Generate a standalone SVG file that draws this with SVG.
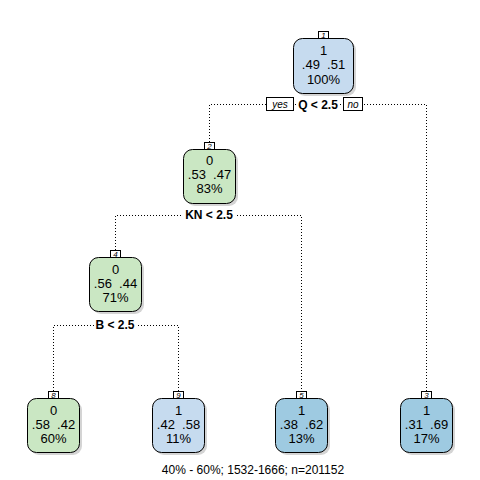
<svg xmlns="http://www.w3.org/2000/svg" width="480" height="480" viewBox="0 0 480 480">
<style>
text{font-family:"Liberation Sans",Arial,sans-serif;fill:#000;white-space:pre}
.t{font-size:13px;text-anchor:middle}
.s{font-size:12px;font-weight:bold;text-anchor:middle}
.yn{font-size:10px;font-style:italic;text-anchor:middle}
.n{font-size:8px;font-style:italic;text-anchor:middle}
.box{stroke:#000;stroke-width:1}
.sh{fill:#d4d4d4}
.lb{fill:#fff;stroke:#000;stroke-width:1}
.c{fill:none;stroke:#000;stroke-width:1;stroke-dasharray:1 2}
.g{fill:#cae7c3}
.lbl{fill:#c6dbef}
.mb{fill:#9ecae1}
</style>
<rect width="480" height="480" fill="#fff"/>
<g id="connectors">
<path class="c" d="M209.5 142V104.5H426.5V391"/>
<path class="c" d="M115.5 250V215.5H301.5V391"/>
<path class="c" d="M53.5 391V325.5H178.5V391"/>
</g>
<g id="split1">
<rect x="266.5" y="97.5" width="27" height="13" class="lb"/>
<text x="280" y="108" class="yn">yes</text>
<rect x="296" y="98" width="44" height="13" fill="#fff"/>
<text x="318" y="109" class="s">Q &lt; 2.5</text>
<rect x="343.5" y="97.5" width="19" height="13" class="lb"/>
<text x="353" y="108" class="yn">no</text>
</g>
<g id="split2">
<rect x="183" y="208" width="52" height="14" fill="#fff"/>
<text x="209" y="219" class="s">KN &lt; 2.5</text>
</g>
<g id="split4">
<rect x="94" y="318" width="43" height="14" fill="#fff"/>
<text x="115" y="329" class="s">B &lt; 2.5</text>
</g>
<g id="node1">
<rect x="296" y="41" width="60" height="55" rx="9" class="sh"/>
<rect x="293.5" y="38.5" width="60" height="55" rx="9" class="box lbl"/>
<rect x="318.5" y="31.5" width="10" height="7" class="lb"/>
<text x="323.5" y="37.5" class="n" fill="#4060a0">1</text>
<text x="323.5" y="55" class="t">1</text>
<text x="323.5" y="69" class="t">.49  .51</text>
<text x="323.5" y="84" class="t">100%</text>
</g>
<g id="node2">
<rect x="186" y="152" width="52" height="54" rx="9" class="sh"/>
<rect x="183.5" y="149.5" width="52" height="54" rx="9" class="box g"/>
<rect x="204.5" y="142.5" width="10" height="7" class="lb"/>
<text x="209.5" y="148.5" class="n">2</text>
<text x="209.5" y="165" class="t">0</text>
<text x="209.5" y="179" class="t">.53  .47</text>
<text x="209.5" y="193" class="t">83%</text>
</g>
<g id="node4">
<rect x="92" y="260" width="52" height="54" rx="9" class="sh"/>
<rect x="89.5" y="257.5" width="52" height="54" rx="9" class="box g"/>
<rect x="110.5" y="250.5" width="10" height="7" class="lb"/>
<text x="115.5" y="256.5" class="n">4</text>
<text x="115.5" y="274" class="t">0</text>
<text x="115.5" y="288" class="t">.56  .44</text>
<text x="115.5" y="302" class="t">71%</text>
</g>
<g id="node8">
<rect x="30" y="401" width="52" height="54" rx="9" class="sh"/>
<rect x="27.5" y="398.5" width="52" height="54" rx="9" class="box g"/>
<rect x="48.5" y="391.5" width="10" height="7" class="lb"/>
<text x="53.5" y="397.5" class="n">8</text>
<text x="53.5" y="415" class="t">0</text>
<text x="53.5" y="429" class="t">.58  .42</text>
<text x="53.5" y="443" class="t">60%</text>
</g>
<g id="node9">
<rect x="155" y="401" width="52" height="54" rx="9" class="sh"/>
<rect x="152.5" y="398.5" width="52" height="54" rx="9" class="box lbl"/>
<rect x="173.5" y="391.5" width="10" height="7" class="lb"/>
<text x="178.5" y="397.5" class="n">9</text>
<text x="178.5" y="415" class="t">1</text>
<text x="178.5" y="429" class="t">.42  .58</text>
<text x="178.5" y="443" class="t">11%</text>
</g>
<g id="node5">
<rect x="278" y="401" width="52" height="54" rx="9" class="sh"/>
<rect x="275.5" y="398.5" width="52" height="54" rx="9" class="box mb"/>
<rect x="296.5" y="391.5" width="10" height="7" class="lb"/>
<text x="301.5" y="397.5" class="n">5</text>
<text x="301.5" y="415" class="t">1</text>
<text x="301.5" y="429" class="t">.38  .62</text>
<text x="301.5" y="443" class="t">13%</text>
</g>
<g id="node3">
<rect x="403" y="401" width="52" height="54" rx="9" class="sh"/>
<rect x="400.5" y="398.5" width="52" height="54" rx="9" class="box mb"/>
<rect x="421.5" y="391.5" width="10" height="7" class="lb"/>
<text x="426.5" y="397.5" class="n">3</text>
<text x="426.5" y="415" class="t">1</text>
<text x="426.5" y="429" class="t">.31  .69</text>
<text x="426.5" y="443" class="t">17%</text>
</g>
<text x="253" y="474" class="t" style="font-size:12px">40% - 60%; 1532-1666; n=201152</text>
</svg>
